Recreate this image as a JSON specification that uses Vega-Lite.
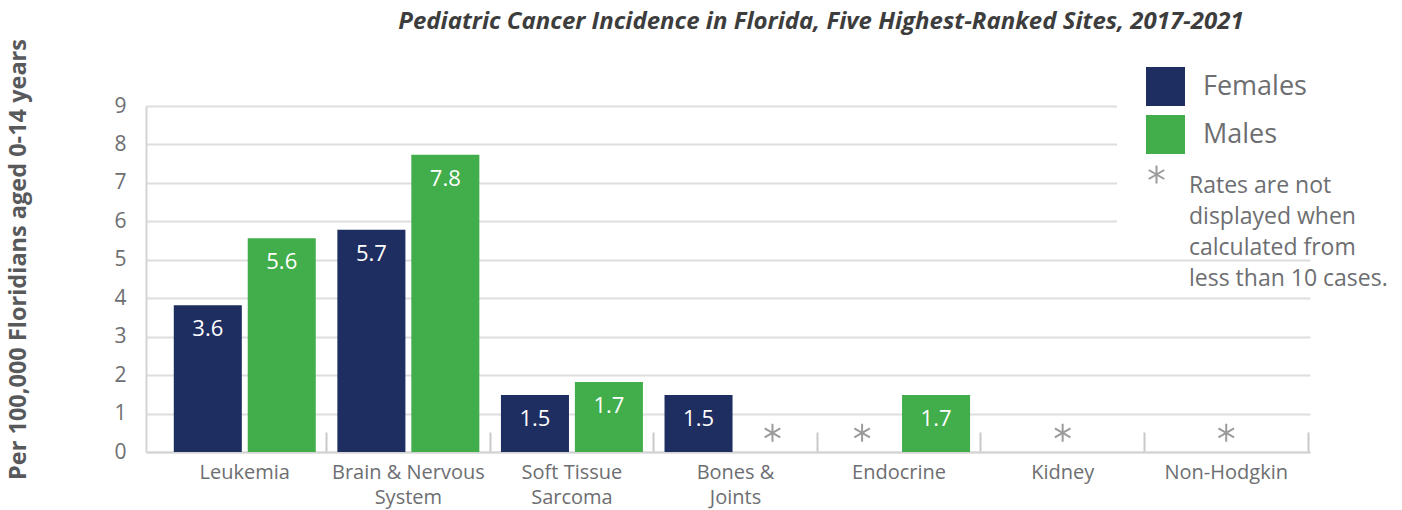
{
  "$schema": "https://vega.github.io/schema/vega-lite/v6.json",
  "width": 1164,
  "height": 346,
  "autosize": {"type": "none"},
  "padding": {"left": 146, "top": 106, "right": 92, "bottom": 58},
  "background": "white",
  "config": {
    "font": "Open Sans",
    "view": {"stroke": null},
    "style": {"guide-label": {"lineHeight": 31}}
  },
  "title": {
    "text": "Pediatric Cancer Incidence in Florida, Five Highest-Ranked Sites, 2017-2021",
    "font": "Open Sans",
    "fontSize": 24,
    "fontWeight": "bold",
    "fontStyle": "italic",
    "color": "#3d3d3d",
    "anchor": "middle",
    "frame": "group",
    "dx": 93,
    "offset": 0,
    "dy": 15,
    "baseline": "alphabetic"
  },
  "datasets": {
    "rates": [
      {"site": "Leukemia", "sex": "Females", "rate": 3.82, "label": "3.6"},
      {"site": "Leukemia", "sex": "Males", "rate": 5.56, "label": "5.6"},
      {"site": "Brain & Nervous System", "sex": "Females", "rate": 5.78, "label": "5.7"},
      {"site": "Brain & Nervous System", "sex": "Males", "rate": 7.73, "label": "7.8"},
      {"site": "Soft Tissue Sarcoma", "sex": "Females", "rate": 1.48, "label": "1.5"},
      {"site": "Soft Tissue Sarcoma", "sex": "Males", "rate": 1.82, "label": "1.7"},
      {"site": "Bones & Joints", "sex": "Females", "rate": 1.48, "label": "1.5"},
      {"site": "Endocrine", "sex": "Males", "rate": 1.48, "label": "1.7"}
    ],
    "suppressed": [
      {"site": "Bones & Joints", "sex": "Males", "note": "Rates are not displayed when calculated from less than 10 cases."},
      {"site": "Endocrine", "sex": "Females", "note": "Rates are not displayed when calculated from less than 10 cases."},
      {"site": "Kidney", "sex": null, "note": "Rates are not displayed when calculated from less than 10 cases."},
      {"site": "Non-Hodgkin", "sex": null, "note": "Rates are not displayed when calculated from less than 10 cases."}
    ]
  },
  "encoding": {
    "x": {
      "field": "site",
      "type": "nominal",
      "sort": ["Leukemia", "Brain & Nervous System", "Soft Tissue Sarcoma", "Bones & Joints", "Endocrine", "Kidney", "Non-Hodgkin"],
      "scale": {
        "domain": ["Leukemia", "Brain & Nervous System", "Soft Tissue Sarcoma", "Bones & Joints", "Endocrine", "Kidney", "Non-Hodgkin"],
        "paddingInner": 0.132,
        "paddingOuter": 0.124,
        "align": 0.685
      },
      "axis": {
        "title": null,
        "labelAngle": 0,
        "labelFontSize": 20,
        "labelColor": "#6d6e71",
        "labelPadding": 30,
        "labelBaseline": "top",
        "labelLineHeight": 25,
        "labelExpr": "datum.value == 'Brain & Nervous System' ? ['Brain & Nervous', 'System'] : datum.value == 'Soft Tissue Sarcoma' ? ['Soft Tissue', 'Sarcoma'] : datum.value == 'Bones & Joints' ? ['Bones &', 'Joints'] : datum.value",
        "domainColor": "#d4d4d4",
        "domainWidth": 2,
        "tickColor": "#c9c9c9",
        "tickWidth": 2,
        "tickSize": -20,
        "bandPosition": 1.076,
        "grid": false
      }
    }
  },
  "layer": [
    {
      "data": {"name": "rates"},
      "mark": {"type": "bar"},
      "encoding": {
        "xOffset": {"field": "sex", "type": "nominal", "scale": {"domain": ["Females", "Males"], "paddingInner": 0.08}},
        "y": {
          "field": "rate",
          "type": "quantitative",
          "scale": {"domain": [0, 9], "nice": false},
          "axis": {
            "title": "Per 100,000 Floridians aged 0-14 years",
            "titleFontSize": 23.5,
            "titleFontWeight": "bold",
            "titleColor": "#58595b",
            "titleX": -128,
            "titleY": 153,
            "titleAngle": -90,
            "titleAlign": "center",
            "titleBaseline": "middle",
            "values": [0, 1, 2, 3, 4, 5, 6, 7, 8, 9],
            "tickCount": 10,
            "labelOverlap": false,
            "ticks": false,
            "labelFontSize": 21,
            "labelColor": "#6d6e71",
            "labelPadding": 20,
            "domainColor": "#d4d4d4",
            "domainWidth": 2,
            "grid": true,
            "gridColor": "#dedede",
            "gridWidth": 2
          }
        },
        "color": {
          "field": "sex",
          "type": "nominal",
          "scale": {"domain": ["Females", "Males"], "range": ["#1f2e61", "#41ae4b"]},
          "legend": {
            "orient": "none",
            "legendX": 971,
            "legendY": -68,
            "title": " ",
            "titleOrient": "bottom",
            "titlePadding": 50,
            "titleFontSize": 1,
            "padding": 29,
            "fillColor": "white",
            "symbolType": "square",
            "symbolSize": 1521,
            "symbolStrokeWidth": 0,
            "labelFontSize": 27,
            "labelColor": "#6d6e71",
            "labelOffset": 18,
            "rowPadding": 9
          }
        }
      }
    },
    {
      "data": {"name": "rates"},
      "mark": {"type": "text", "color": "white", "fontSize": 22, "baseline": "middle", "dy": 24},
      "encoding": {
        "xOffset": {"field": "sex", "type": "nominal", "scale": {"domain": ["Females", "Males"], "paddingInner": 0.08}},
        "y": {"field": "rate", "type": "quantitative"},
        "text": {"field": "label", "type": "nominal"}
      }
    },
    {
      "data": {"name": "suppressed"},
      "transform": [{"filter": "datum.sex != null"}],
      "mark": {"type": "point", "filled": false, "color": "#9b9b9b", "strokeWidth": 2, "size": 324, "opacity": 1},
      "encoding": {
        "xOffset": {"field": "sex", "type": "nominal", "scale": {"domain": ["Females", "Males"], "paddingInner": 0.08}},
        "y": {"datum": 0.5, "type": "quantitative"},
        "shape": {
          "field": "note",
          "type": "nominal",
          "scale": {"range": ["M0,-1L0,1M-0.866,-0.5L0.866,0.5M-0.866,0.5L0.866,-0.5"]},
          "legend": {
            "orient": "none",
            "legendX": 999,
            "legendY": 57,
            "title": null,
            "padding": 0,
            "symbolSize": 324,
            "symbolStrokeColor": "#9b9b9b",
            "symbolStrokeWidth": 2,
            "symbolFillColor": "transparent",
            "labelFontSize": 23,
            "labelColor": "#6d6e71",
            "labelOffset": 21,
            "labelBaseline": "top",
            "labelLimit": 0,
            "labelExpr": "['Rates are not', 'displayed when', 'calculated from', 'less than 10 cases.']",
            "encode": {"labels": {"enter": {"lineHeight": {"value": 31}}}}
          }
        }
      }
    },
    {
      "data": {"name": "suppressed"},
      "transform": [{"filter": "datum.sex == null"}],
      "mark": {"type": "point", "filled": false, "color": "#9b9b9b", "strokeWidth": 2, "size": 324, "opacity": 1},
      "encoding": {
        "y": {"datum": 0.5, "type": "quantitative"},
        "shape": {"field": "note", "type": "nominal"}
      }
    }
  ]
}
